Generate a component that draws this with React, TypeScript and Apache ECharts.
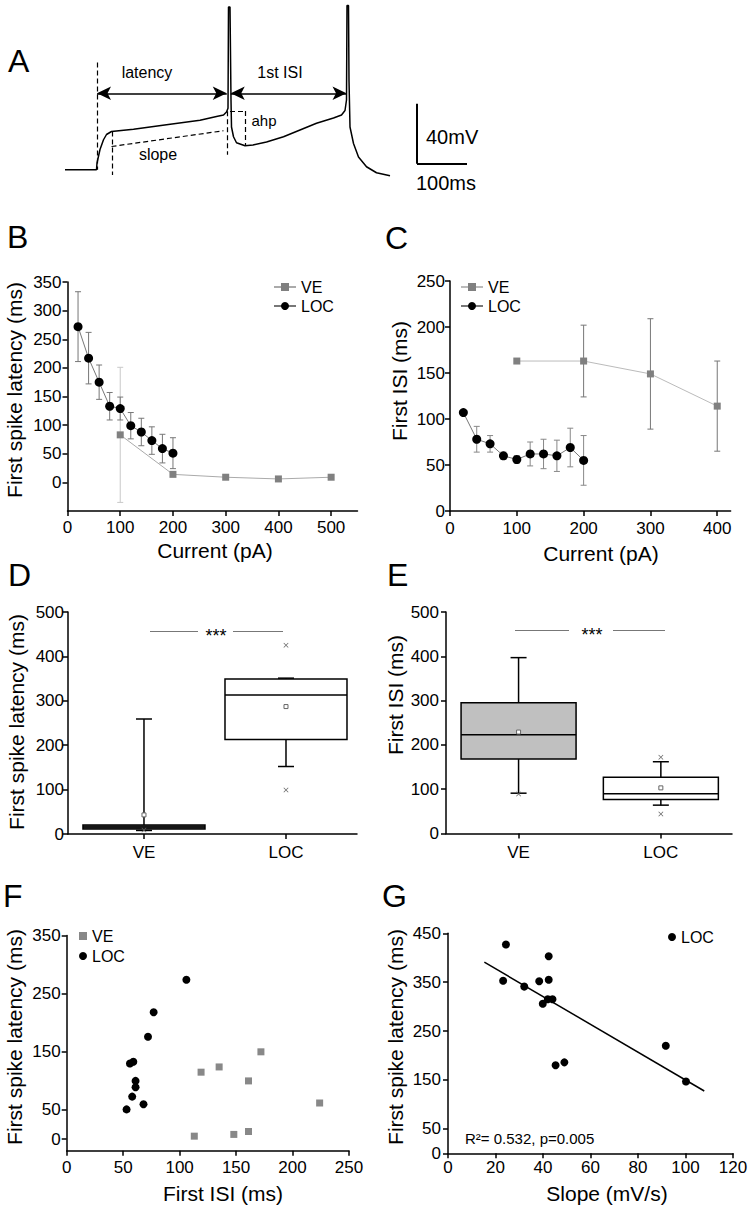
import { useEffect, useRef } from "react";
import * as echarts from "echarts";

const FONT = "'Liberation Sans', Arial, Helvetica, sans-serif";

// ---------- Panel A: schematic membrane-potential trace (time ms, Vm mV) ----------
const traceTime = [0, 63, 64, 70, 77, 83, 93, 137, 203, 270, 303, 317, 323, 326, 327, 330, 332, 333, 337, 343, 360, 376, 403, 437, 470, 503, 537, 553, 560, 563, 564, 567, 568, 570, 577, 587, 603, 623, 650];
const traceVm = [-70.5, -70.5, -66, -57, -50.5, -47, -45, -43.5, -40.5, -37.5, -35, -34, -32, -29.5, 38, 38, -24, -42, -48.5, -52.5, -54.5, -54, -52, -48.5, -44, -39.5, -36, -34, -31, -24, 39, 39, -11, -42, -53, -62, -68.5, -72.5, -74.5];
// guide lines [t1, v1, t2, v2] in ms / mV
const dashedGuides = [
  [64, 1, 64, -70.5],
  [94, -45, 94, -74],
  [93, -55, 317, -44.5],
  [323.5, -31.5, 323.5, -60.5],
  [330, -31.3, 361, -31.3],
  [361, -31.3, 361, -54],
];
const arrowGuides = [
  [64, -19.5, 323.5, -19.5],
  [331.5, -19.5, 563, -19.5],
];
const scaleBarLines = [
  [704, -26.5, 704, -66.5],
  [704, -66.5, 804, -66.5],
];

// ---------- Panel B: first spike latency vs current ----------
const bCurrentLOC = [20, 40, 60, 80, 100, 120, 140, 160, 180, 200];
const bLatencyLOC = [272, 217, 175, 133, 129, 99, 88, 73, 59, 51];
const bLatencyLOCErr = [61, 45, 30, 24, 20, 23, 24, 24, 25, 27];
const bCurrentVE = [100, 200, 300, 400, 500];
const bLatencyVE = [83, 14, 9, 6, 9];
const bLatencyVEErr = [118, 0, 0, 0, 0];
const bXTicks = [0, 100, 200, 300, 400, 500];
const bYTicks = [0, 50, 100, 150, 200, 250, 300, 350];

// ---------- Panel C: first ISI vs current ----------
const cCurrentLOC = [20, 40, 60, 80, 100, 120, 140, 160, 180, 200];
const cIsiLOC = [107, 78, 73, 60, 56, 62, 62, 60, 69, 55];
const cIsiLOCErr = [0, 14, 9, 4, 4, 13, 16, 17, 21, 27];
const cCurrentVE = [100, 200, 300, 400];
const cIsiVE = [163, 163, 149, 114];
const cIsiVEErr = [0, 39, 60, 49];
const cXTicks = [0, 100, 200, 300, 400];
const cYTicks = [0, 50, 100, 150, 200, 250];

// ---------- Panels D & E: box plots [min, Q1, median, Q3, max] ----------
const groups = ["VE", "LOC"];
const dLatencyBox = [[8, 11, 16, 20, 259], [152, 213, 313, 349, 351]];
const dLatencyMean = [43, 287];
const dLatencyMarks = [[0, 9], [1, 425], [1, 99]];
const eIsiBox = [[91, 168, 223, 295, 397], [64, 77, 90, 127, 162]];
const eIsiMean = [229, 103];
const eIsiMarks = [[0, 89], [1, 172], [1, 44]];
const boxYTicks = [0, 100, 200, 300, 400, 500];

// ---------- Panel F: latency vs first ISI ----------
const fIsiLOC = [106, 77, 72, 56, 59, 61, 61, 58, 68, 53];
const fLatencyLOC = [274, 218, 176, 130, 133, 100, 89, 73, 60, 51];
const fIsiVE = [172, 135, 119, 161, 224, 161, 148, 113];
const fLatencyVE = [150, 124, 115, 100, 62, 13, 8, 5];
const fXTicks = [0, 50, 100, 150, 200, 250];
const fYTicks = [0, 50, 150, 250, 350];

// ---------- Panel G: latency vs slope ----------
const gSlope = [24.4, 23.2, 32.1, 38.4, 42.4, 42.4, 39.9, 42, 44, 45.3, 49, 91.7, 100.2];
const gLatency = [427, 353, 341, 352, 403, 355, 306, 315, 315, 180, 186, 220, 147];
const gFitLine = [[15.3, 391], [107.9, 127.4]];
const gXTicks = [0, 20, 40, 60, 80, 100, 120];
const gYTicks = [0, 50, 150, 250, 350, 450];

const pairs = (xs: number[], ys: number[]) => xs.map((x, i) => [x, ys[i]]);
const errTriples = (xs: number[], ys: number[], es: number[]) =>
  xs.map((x, i) => [x, ys[i] - es[i], ys[i] + es[i]]);
const legendName = (n: string) => n.split("-")[0];
const X_SYMBOL = "path://M0,1L1,0L5,4L9,0L10,1L6,5L10,9L9,10L5,6L1,10L0,9L4,5Z";

function valueAxis(gridIndex: number, min: number, max: number, ticks: number[], margin: number, formatter?: any) {
  return {
    type: "value",
    gridIndex,
    min,
    max,
    axisLine: { show: true, onZero: false, lineStyle: { color: "#000", width: 1.5 } },
    axisTick: { show: true, length: 5, customValues: ticks, lineStyle: { color: "#000", width: 1.5 } },
    axisLabel: {
      show: true,
      customValues: ticks,
      margin,
      color: "#000",
      fontSize: 17,
      fontFamily: FONT,
      ...(formatter ? { formatter } : {}),
    },
    splitLine: { show: false },
  };
}

function errorBarItem(color: string, cap: number) {
  return (_p: any, api: any) => {
    const x = api.value(0);
    const lo = api.value(1);
    const hi = api.value(2);
    if (!(hi - lo > 0)) return { type: "group", children: [] };
    const a = api.coord([x, hi]);
    const b = api.coord([x, lo]);
    const style = { stroke: color, lineWidth: 1 };
    return {
      type: "group",
      children: [
        { type: "line", shape: { x1: a[0], y1: a[1], x2: b[0], y2: b[1] }, style },
        { type: "line", shape: { x1: a[0] - cap, y1: a[1], x2: a[0] + cap, y2: a[1] }, style },
        { type: "line", shape: { x1: b[0] - cap, y1: b[1], x2: b[0] + cap, y2: b[1] }, style },
      ],
    };
  };
}

function boxItem(fills: string[], boxW: number, capW: number) {
  return (params: any, api: any) => {
    const x = api.value(0);
    const pLo = api.coord([x, api.value(1)]);
    const pQ1 = api.coord([x, api.value(2)]);
    const pMed = api.coord([x, api.value(3)]);
    const pQ3 = api.coord([x, api.value(4)]);
    const pHi = api.coord([x, api.value(5)]);
    const cx = pMed[0];
    const s = { stroke: "#000", lineWidth: 1.5 };
    return {
      type: "group",
      children: [
        { type: "line", shape: { x1: cx, y1: pHi[1], x2: cx, y2: pQ3[1] }, style: s },
        { type: "line", shape: { x1: cx - capW / 2, y1: pHi[1], x2: cx + capW / 2, y2: pHi[1] }, style: s },
        { type: "line", shape: { x1: cx, y1: pQ1[1], x2: cx, y2: pLo[1] }, style: s },
        { type: "line", shape: { x1: cx - capW / 2, y1: pLo[1], x2: cx + capW / 2, y2: pLo[1] }, style: s },
        {
          type: "rect",
          shape: { x: cx - boxW / 2, y: pQ3[1], width: boxW, height: Math.max(pQ1[1] - pQ3[1], 1) },
          style: { fill: fills[params.dataIndex], stroke: "#000", lineWidth: 1.5 },
        },
        { type: "line", shape: { x1: cx - boxW / 2, y1: pMed[1], x2: cx + boxW / 2, y2: pMed[1] }, style: s },
      ],
    };
  };
}

const txt = (text: string, x: number, y: number, size: number, extra: any = {}, rotate = 0) => ({
  type: "text",
  x,
  y,
  rotation: rotate,
  silent: true,
  style: { text, fontSize: size, fontFamily: FONT, fill: "#000", align: "center", verticalAlign: "middle", ...extra },
});
const seg = (x1: number, y1: number, x2: number, y2: number, color = "#777") => ({
  type: "line",
  silent: true,
  shape: { x1, y1, x2, y2 },
  style: { stroke: color, lineWidth: 1 },
});

function buildOption() {
  const guideData = [
    ...dashedGuides.map(([x1, y1, x2, y2]) => [
      { coord: [x1, y1], symbol: "none", lineStyle: { type: [5, 3], color: "#000", width: 1.2 } },
      { coord: [x2, y2], symbol: "none" },
    ]),
    ...arrowGuides.map(([x1, y1, x2, y2]) => [
      { coord: [x1, y1], symbol: "arrow", symbolSize: [10, 14], lineStyle: { type: "solid", color: "#000", width: 1.5 } },
      { coord: [x2, y2], symbol: "arrow", symbolSize: [10, 14] },
    ]),
    ...scaleBarLines.map(([x1, y1, x2, y2]) => [
      { coord: [x1, y1], symbol: "none", lineStyle: { type: "solid", color: "#000", width: 2 } },
      { coord: [x2, y2], symbol: "none" },
    ]),
  ];

  const legendText = { fontSize: 16, fontFamily: FONT, color: "#000", lineHeight: 16 };
  const groupFmt = (v: number) => groups[Math.round(v)] ?? "";

  return {
    animation: false,
    backgroundColor: "#fff",
    grid: [
      { left: 65, top: 4, width: 410, height: 172.5, outerBoundsMode: "none" },
      { left: 67.5, top: 282, width: 290, height: 229, outerBoundsMode: "none" },
      { left: 450, top: 281, width: 280.6, height: 230, outerBoundsMode: "none" },
      { left: 68, top: 612, width: 289, height: 222, outerBoundsMode: "none" },
      { left: 446, top: 612, width: 286, height: 221.5, outerBoundsMode: "none" },
      { left: 66.7, top: 935.5, width: 282.3, height: 215.2, outerBoundsMode: "none" },
      { left: 448, top: 933.3, width: 285, height: 220, outerBoundsMode: "none" },
    ],
    xAxis: [
      { type: "value", gridIndex: 0, min: 0, max: 820, show: false },
      valueAxis(1, 0, 550, bXTicks, 8),
      valueAxis(2, 0, 420, cXTicks, 9),
      valueAxis(3, -0.535, 1.5, [0, 1], 10, groupFmt),
      valueAxis(4, -0.51, 1.5, [0, 1], 10, groupFmt),
      valueAxis(5, 0, 250, fXTicks, 8),
      valueAxis(6, 0, 120, gXTicks, 6),
    ],
    yAxis: [
      { type: "value", gridIndex: 0, min: -75, max: 40, show: false },
      valueAxis(1, -50, 350, bYTicks, 6),
      valueAxis(2, 0, 250, cYTicks, 5),
      valueAxis(3, 0, 500, boxYTicks, 4),
      valueAxis(4, 0, 500, boxYTicks, 7),
      valueAxis(5, -20, 350, fYTicks, 6),
      valueAxis(6, 0, 450, gYTicks, 7),
    ],
    legend: [
      { data: ["VE-B", "LOC-B"], left: 273, top: 279, padding: 0, orient: "vertical", itemWidth: 22, itemHeight: 10, itemGap: 3, selectedMode: false, formatter: legendName, textStyle: legendText },
      { data: ["VE-C", "LOC-C"], left: 460, top: 279, padding: 0, orient: "vertical", itemWidth: 22, itemHeight: 10, itemGap: 3, selectedMode: false, formatter: legendName, textStyle: legendText },
      { data: ["VE-F", "LOC-F"], left: 79, top: 928, padding: 0, orient: "vertical", itemWidth: 8, itemHeight: 8, itemGap: 4, selectedMode: false, formatter: legendName, textStyle: legendText },
      { data: ["LOC-G"], left: 668, top: 929, padding: 0, orient: "vertical", itemWidth: 8, itemHeight: 8, itemGap: 4, selectedMode: false, formatter: legendName, textStyle: legendText },
    ],
    series: [
      // A
      {
        type: "line",
        name: "trace",
        xAxisIndex: 0,
        yAxisIndex: 0,
        data: pairs(traceTime, traceVm),
        symbol: "none",
        silent: true,
        itemStyle: { color: "#000" },
        lineStyle: { color: "#000", width: 1.5 },
        markLine: { silent: true, symbol: "none", label: { show: false }, animation: false, data: guideData },
      },
      // B
      { type: "custom", xAxisIndex: 1, yAxisIndex: 1, data: errTriples(bCurrentVE, bLatencyVE, bLatencyVEErr), renderItem: errorBarItem("#c8c8c8", 3), encode: { x: 0, y: [1, 2] }, silent: true },
      { type: "custom", xAxisIndex: 1, yAxisIndex: 1, data: errTriples(bCurrentLOC, bLatencyLOC, bLatencyLOCErr), renderItem: errorBarItem("#777", 3), encode: { x: 0, y: [1, 2] }, silent: true },
      { type: "line", name: "VE-B", xAxisIndex: 1, yAxisIndex: 1, data: pairs(bCurrentVE, bLatencyVE), symbol: "rect", symbolSize: 7, itemStyle: { color: "#808080", opacity: 1 }, lineStyle: { color: "#aaa", width: 1 } },
      { type: "line", name: "LOC-B", xAxisIndex: 1, yAxisIndex: 1, data: pairs(bCurrentLOC, bLatencyLOC), symbol: "circle", symbolSize: 9, itemStyle: { color: "#000", opacity: 1 }, lineStyle: { color: "#777", width: 1 } },
      // C
      { type: "custom", xAxisIndex: 2, yAxisIndex: 2, data: errTriples(cCurrentVE, cIsiVE, cIsiVEErr), renderItem: errorBarItem("#777", 3), encode: { x: 0, y: [1, 2] }, silent: true },
      { type: "custom", xAxisIndex: 2, yAxisIndex: 2, data: errTriples(cCurrentLOC, cIsiLOC, cIsiLOCErr), renderItem: errorBarItem("#888", 3), encode: { x: 0, y: [1, 2] }, silent: true },
      { type: "line", name: "VE-C", xAxisIndex: 2, yAxisIndex: 2, data: pairs(cCurrentVE, cIsiVE), symbol: "rect", symbolSize: 7, itemStyle: { color: "#808080", opacity: 1 }, lineStyle: { color: "#bbb", width: 1 } },
      { type: "line", name: "LOC-C", xAxisIndex: 2, yAxisIndex: 2, data: pairs(cCurrentLOC, cIsiLOC), symbol: "circle", symbolSize: 9, itemStyle: { color: "#000", opacity: 1 }, lineStyle: { color: "#777", width: 1 } },
      // D
      { type: "custom", xAxisIndex: 3, yAxisIndex: 3, data: dLatencyBox.map((s, i) => [i, ...s]), renderItem: boxItem(["#5a5a5a", "#fff"], 122, 16), encode: { x: 0, y: [1, 5] }, silent: true },
      { type: "scatter", xAxisIndex: 3, yAxisIndex: 3, data: dLatencyMean.map((m, i) => [i, m]), symbol: "rect", symbolSize: 4, itemStyle: { color: "#fff", borderColor: "#666", borderWidth: 1, opacity: 1 }, silent: true },
      { type: "scatter", xAxisIndex: 3, yAxisIndex: 3, data: dLatencyMarks, symbol: X_SYMBOL, symbolSize: 5, itemStyle: { color: "#666", opacity: 1 }, silent: true },
      // E
      { type: "custom", xAxisIndex: 4, yAxisIndex: 4, data: eIsiBox.map((s, i) => [i, ...s]), renderItem: boxItem(["#c0c0c0", "#fff"], 115, 16), encode: { x: 0, y: [1, 5] }, silent: true },
      { type: "scatter", xAxisIndex: 4, yAxisIndex: 4, data: eIsiMean.map((m, i) => [i, m]), symbol: "rect", symbolSize: 4, itemStyle: { color: "#fff", borderColor: "#666", borderWidth: 1, opacity: 1 }, silent: true },
      { type: "scatter", xAxisIndex: 4, yAxisIndex: 4, data: eIsiMarks, symbol: X_SYMBOL, symbolSize: 5, itemStyle: { color: "#666", opacity: 1 }, silent: true },
      // F
      { type: "scatter", name: "VE-F", xAxisIndex: 5, yAxisIndex: 5, data: pairs(fIsiVE, fLatencyVE), symbol: "rect", symbolSize: 7, itemStyle: { color: "#888", opacity: 1 } },
      { type: "scatter", name: "LOC-F", xAxisIndex: 5, yAxisIndex: 5, data: pairs(fIsiLOC, fLatencyLOC), symbol: "circle", symbolSize: 8, itemStyle: { color: "#000", opacity: 1 } },
      // G
      { type: "line", name: "fit", xAxisIndex: 6, yAxisIndex: 6, data: gFitLine, symbol: "none", lineStyle: { color: "#000", width: 1.5 }, silent: true },
      { type: "scatter", name: "LOC-G", xAxisIndex: 6, yAxisIndex: 6, data: pairs(gSlope, gLatency), symbol: "circle", symbolSize: 8, itemStyle: { color: "#000", opacity: 1 } },
    ],
    graphic: [
      // panel letters
      txt("A", 8, 61, 32, { align: "left" }),
      txt("B", 7, 237, 32, { align: "left" }),
      txt("C", 385, 238, 32, { align: "left" }),
      txt("D", 8, 575, 32, { align: "left" }),
      txt("E", 387, 575, 32, { align: "left" }),
      txt("F", 3, 896, 32, { align: "left" }),
      txt("G", 382, 896, 32, { align: "left" }),
      // panel A annotations
      txt("latency", 147, 72, 16),
      txt("1st ISI", 280, 72, 16),
      txt("slope", 158, 154, 16),
      txt("ahp", 264, 120, 15),
      txt("40mV", 426, 137, 20, { align: "left" }),
      txt("100ms", 416, 183, 20, { align: "left" }),
      // axis titles
      txt("First spike latency (ms)", 14, 390, 21, {}, Math.PI / 2),
      txt("Current (pA)", 215, 550, 21),
      txt("First ISI (ms)", 399, 381, 21, {}, Math.PI / 2),
      txt("Current (pA)", 601, 553, 21),
      txt("First spike latency (ms)", 16, 722, 21, {}, Math.PI / 2),
      txt("First ISI (ms)", 395, 695, 21, {}, Math.PI / 2),
      txt("First spike latency (ms)", 14, 1037, 21, {}, Math.PI / 2),
      txt("First ISI (ms)", 223, 1193, 21),
      txt("First spike latency (ms)", 395, 1037, 21, {}, Math.PI / 2),
      txt("Slope (mV/s)", 607, 1193, 21),
      // significance
      seg(150, 631.5, 198, 631.5),
      seg(233, 631.5, 283, 631.5),
      txt("***", 216, 636, 18),
      seg(515, 630.5, 569, 630.5),
      seg(613, 630.5, 665, 630.5),
      txt("***", 592, 635, 18),
      // regression stats
      txt("R\u00b2= 0.532, p=0.005", 465, 1138, 15, { align: "left" }),
    ],
  };
}

export default function App() {
  const ref = useRef<HTMLDivElement>(null);
  useEffect(() => {
    if (!ref.current) return;
    const chart = echarts.init(ref.current, null, { renderer: "svg" });
    chart.setOption(buildOption() as any);
    return () => chart.dispose();
  }, []);
  return (
    <div
      ref={ref}
      style={{ position: "absolute", left: 0, top: 0, width: 754, height: 1210, background: "#fff" }}
    />
  );
}
